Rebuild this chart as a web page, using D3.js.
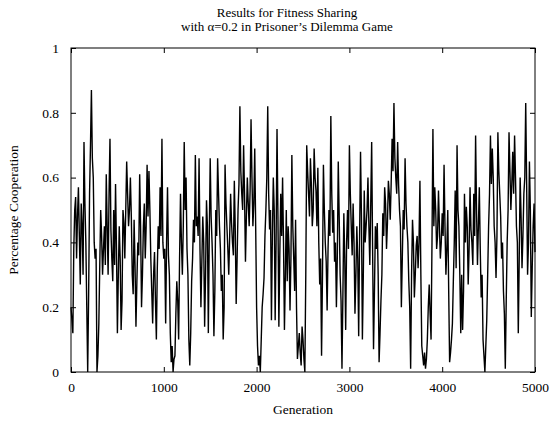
<!DOCTYPE html>
<html>
<head>
<meta charset="utf-8">
<script src="https://cdn.jsdelivr.net/npm/d3@7"></script>
<style>
  html, body { margin: 0; padding: 0; background: #fff; }
  svg text { font-family: "Liberation Serif", "DejaVu Serif", serif; fill: #000; }
</style>
</head>
<body>
<div id="chart"></div>
<script>
// Fraction of cooperating players, sampled every 10 generations (0..5000)
const generationStep = 10;
const cooperation = [
  // 0 - 830
  0.20,0.16, 0.12,0.38, 0.50,0.54, 0.35,0.48, 0.57,0.42, 0.27,0.52, 0.45,0.30, 0.71,0.52, 0.40,0.20, 0.00,0.24,
  0.55,0.70, 0.87,0.66, 0.60,0.40, 0.35,0.38, 0.00,0.05, 0.15,0.33, 0.50,0.42, 0.30,0.38, 0.45,0.33, 0.61,0.45,
  0.30,0.55, 0.72,0.44, 0.35,0.28, 0.50,0.33, 0.58,0.38, 0.12,0.30, 0.45,0.35, 0.13,0.22, 0.50,0.46, 0.35,0.50,
  0.65,0.55, 0.45,0.50, 0.60,0.48, 0.30,0.24, 0.47,0.33, 0.14,0.28, 0.40,0.36, 0.61,0.45, 0.20,0.30, 0.45,0.52,
  0.35,0.45, 0.64,0.48,
  // 840 - 1670
  0.62,0.50, 0.35,0.25, 0.15,0.30, 0.37,0.22, 0.10,0.32, 0.45,0.38, 0.57,0.42, 0.72,0.40, 0.35,0.38, 0.15,0.40,
  0.57,0.36, 0.30,0.12, 0.03,0.08, 0.00,0.04, 0.05,0.18, 0.28,0.22, 0.10,0.35, 0.55,0.40, 0.30,0.45, 0.71,0.50,
  0.60,0.38, 0.30,0.10, 0.02,0.12, 0.28,0.35, 0.47,0.40, 0.67,0.45, 0.48,0.42, 0.66,0.38, 0.20,0.34, 0.48,0.40,
  0.14,0.30, 0.53,0.45, 0.12,0.42, 0.66,0.48, 0.40,0.30, 0.11,0.25, 0.50,0.42, 0.66,0.55, 0.45,0.38, 0.25,0.30,
  0.10,0.20, 0.64,0.52,
  // 1680 - 2490
  0.45,0.38, 0.30,0.42, 0.55,0.46, 0.40,0.36, 0.59,0.44, 0.21,0.35, 0.50,0.58, 0.82,0.62, 0.55,0.50, 0.70,0.55,
  0.34,0.48, 0.60,0.52, 0.45,0.56, 0.78,0.60, 0.45,0.52, 0.69,0.45, 0.20,0.08, 0.02,0.05, 0.00,0.10, 0.20,0.24,
  0.29,0.42, 0.50,0.60, 0.82,0.55, 0.44,0.50, 0.16,0.42, 0.60,0.50, 0.16,0.40, 0.75,0.48, 0.14,0.36, 0.55,0.42,
  0.60,0.40, 0.13,0.30, 0.50,0.28, 0.45,0.38, 0.19,0.35, 0.67,0.45, 0.35,0.25, 0.47,0.20, 0.04,0.08, 0.12,0.06,
  0.02,0.14,
  // 2500 - 3310
  0.10,0.04, 0.00,0.30, 0.70,0.62, 0.55,0.48, 0.66,0.58, 0.45,0.50, 0.69,0.60, 0.56,0.45, 0.63,0.40, 0.27,0.35,
  0.05,0.30, 0.64,0.50, 0.40,0.34, 0.19,0.38, 0.50,0.42, 0.79,0.55, 0.43,0.50, 0.34,0.40, 0.20,0.36, 0.65,0.48,
  0.30,0.22, 0.01,0.24, 0.49,0.35, 0.13,0.40, 0.50,0.38, 0.70,0.55, 0.45,0.36, 0.52,0.40, 0.18,0.30, 0.45,0.35,
  0.11,0.42, 0.68,0.48, 0.10,0.30, 0.56,0.40, 0.45,0.50, 0.60,0.45, 0.33,0.52, 0.71,0.38, 0.07,0.25, 0.45,0.38,
  0.46,0.30,
  // 3320 - 4150
  0.03,0.12, 0.22,0.30, 0.49,0.42, 0.57,0.52, 0.38,0.46, 0.59,0.55, 0.47,0.58, 0.72,0.62, 0.83,0.66, 0.60,0.55,
  0.71,0.58, 0.50,0.45, 0.20,0.35, 0.50,0.44, 0.66,0.52, 0.45,0.40, 0.28,0.20, 0.01,0.30, 0.47,0.40, 0.23,0.30,
  0.39,0.42, 0.32,0.40, 0.59,0.30, 0.08,0.05, 0.02,0.06, 0.01,0.04, 0.10,0.20, 0.27,0.18, 0.10,0.40, 0.75,0.45,
  0.57,0.50, 0.38,0.42, 0.56,0.45, 0.35,0.40, 0.49,0.42, 0.64,0.45, 0.30,0.38, 0.50,0.25, 0.03,0.06, 0.10,0.15,
  0.28,0.40, 0.56,0.32,
  // 4160 - 5000
  0.70,0.50, 0.45,0.30, 0.12,0.30, 0.13,0.25, 0.55,0.40, 0.51,0.45, 0.27,0.38, 0.57,0.44, 0.40,0.33, 0.55,0.42,
  0.73,0.50, 0.33,0.45, 0.57,0.38, 0.23,0.30, 0.10,0.05, 0.00,0.08, 0.16,0.30, 0.45,0.55, 0.73,0.58, 0.69,0.60,
  0.45,0.40, 0.29,0.42, 0.74,0.62, 0.55,0.48, 0.35,0.40, 0.25,0.18, 0.01,0.22, 0.40,0.50, 0.74,0.62, 0.50,0.58,
  0.68,0.55, 0.73,0.60, 0.45,0.40, 0.12,0.35, 0.60,0.48, 0.32,0.42, 0.55,0.60, 0.83,0.58, 0.30,0.40, 0.65,0.50,
  0.17,0.32, 0.45,0.52, 0.37
];
const generations = cooperation.map((_, i) => i * generationStep);

const xTicks = [0, 1000, 2000, 3000, 4000, 5000];
const yTicks = [0, 0.2, 0.4, 0.6, 0.8, 1];
const titleLines = ["Results for Fitness Sharing", "with \u03b1=0.2 in Prisoner\u2019s Dilemma Game"];
const xLabel = "Generation";
const yLabel = "Percentage Cooperation";

const width = 550, height = 424;
const margin = { top: 48, right: 15, bottom: 52, left: 71 };
const plotW = width - margin.left - margin.right;
const plotH = height - margin.top - margin.bottom;
const fontSize = 13.5;

const svg = d3.select("#chart").append("svg")
  .attr("width", width).attr("height", height);

const x = d3.scaleLinear().domain([0, 5000]).range([margin.left, margin.left + plotW]);
const y = d3.scaleLinear().domain([0, 1]).range([margin.top + plotH, margin.top]);

// two-line title
svg.append("g").selectAll("text").data(titleLines).join("text")
  .attr("x", 287).attr("y", (d, i) => 17 + i * 14)
  .attr("text-anchor", "middle").attr("font-size", 13)
  .text(d => d);

// data line
const line = d3.line().x((d, i) => x(generations[i])).y(d => y(d));
svg.append("path").datum(cooperation)
  .attr("fill", "none").attr("stroke", "#000").attr("stroke-width", 1.4)
  .attr("stroke-linejoin", "miter")
  .attr("d", line);

// inward ticks on all four sides, labels on bottom and left
const tickLen = 5;
const axisB = d3.axisBottom(x).tickValues(xTicks).tickSizeInner(-tickLen).tickSizeOuter(0)
  .tickPadding(10).tickFormat(d3.format("d"));
const axisT = d3.axisTop(x).tickValues(xTicks).tickSizeInner(-tickLen).tickSizeOuter(0).tickFormat("");
const axisL = d3.axisLeft(y).tickValues(yTicks).tickSizeInner(-tickLen).tickSizeOuter(0)
  .tickPadding(12).tickFormat(d => d === 0 || d === 1 ? d3.format("d")(d) : d3.format(".1f")(d));
const axisR = d3.axisRight(y).tickValues(yTicks).tickSizeInner(-tickLen).tickSizeOuter(0).tickFormat("");

function style(g) {
  g.select(".domain").remove();
  g.selectAll("line").attr("stroke", "#000");
  g.selectAll("text").attr("font-size", fontSize)
    .attr("font-family", "'Liberation Serif', 'DejaVu Serif', serif").attr("fill", "#000");
}

svg.append("g").attr("transform", `translate(0,${margin.top + plotH})`).call(axisB).call(style);
svg.append("g").attr("transform", `translate(0,${margin.top})`).call(axisT).call(style);
svg.append("g").attr("transform", `translate(${margin.left},0)`).call(axisL).call(style);
svg.append("g").attr("transform", `translate(${margin.left + plotW},0)`).call(axisR).call(style);

// frame
svg.append("rect")
  .attr("x", margin.left).attr("y", margin.top)
  .attr("width", plotW).attr("height", plotH)
  .attr("fill", "none").attr("stroke", "#000").attr("stroke-width", 1);

// axis titles
svg.append("text").attr("x", x(2500)).attr("y", 414)
  .attr("text-anchor", "middle").attr("font-size", fontSize).text(xLabel);
svg.append("text")
  .attr("transform", `translate(18,${y(0.5)}) rotate(-90)`)
  .attr("text-anchor", "middle").attr("font-size", fontSize).text(yLabel);
</script>
</body>
</html>
